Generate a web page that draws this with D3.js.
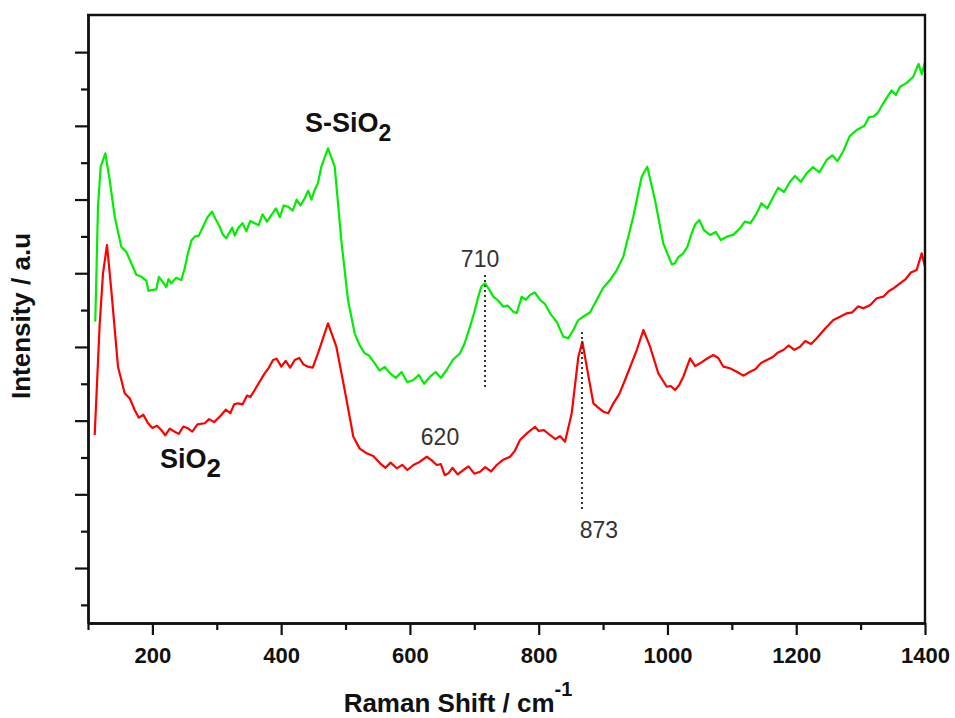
<!DOCTYPE html>
<html><head><meta charset="utf-8">
<script src="https://cdn.jsdelivr.net/npm/d3@7"></script>
<style>body{margin:0;background:#fff}svg{display:block}</style>
</head><body>
<svg id="chart" width="955" height="718"></svg>
<script>
// ---- data: [Raman shift (cm^-1), intensity (a.u.)] ----
const sSiO2 = [[111.3,434.2],[115.5,590.3],[119.7,644.6],[126.9,662.7],[133.7,626.5],[141.5,576.7],[151.7,536],[159.5,529],[167.3,513.5],[175,498],[182.8,495.3],[190.5,490],[194,476],[198.3,477.2],[206,478],[210,495],[213.9,490.8],[221.6,481],[225,492],[229.4,486.3],[237,494],[244.9,490.8],[250,506],[255.3,527.1],[260.5,544],[265.7,549.6],[272,551],[278.6,563.1],[285.6,576],[292.6,583.5],[298,574],[304.6,563.1],[309,553],[314.8,547.4],[324,562],[328,551],[333,561],[340,568],[346,557],[352,571],[358.9,567.8],[365,565],[371,580],[378,570],[384.7,579],[392,588],[398,576],[404,592],[410.7,590.3],[418,585],[424,600],[430,592],[436.6,601.7],[442,612],[447,600],[452.1,613],[457,622],[462.4,644.6],[472.8,669.5],[483.2,644.6],[493.4,545.1],[503.8,463.7],[514.2,418.5],[522,402],[529.8,391.3],[537,388],[545.3,377.8],[553,368],[561,373],[569.1,364.2],[578,358],[587,366],[596,352],[605.2,355.1],[614,362],[622,350],[631.2,359.6],[640,366],[648,358],[657.1,368.7],[667,383],[677.8,391.3],[685,405],[693.3,427.5],[700,447],[706.2,468.2],[711,482],[716.6,486.3],[723,478],[729.5,468.2],[737,463],[745,454.6],[752,456],[760.5,447.8],[766,446],[773.6,468.2],[780,464],[786.6,470.5],[794,474],[802.1,463.7],[810,458],[817.6,445.6],[828,434],[838.3,413.9],[846,412],[853.8,423],[861,436],[869.2,441],[880,447],[890,463.7],[900,480],[910.7,490.8],[921,504],[931.4,522.4],[946.9,576.7],[959.9,631],[968.6,644.6],[980.6,599.4],[993.5,540.6],[1003,520],[1007,512],[1011.6,513.5],[1017,522],[1024.6,527.1],[1031,536],[1037.6,554.2],[1043,566],[1049.4,572.2],[1057,558],[1066.1,551.9],[1075,556],[1083,545],[1092.1,549.6],[1102,552],[1112.7,561],[1120,570],[1129,568],[1138.6,581.3],[1146,595],[1155,588],[1164.4,603.9],[1172,616],[1181,610],[1190.3,624.2],[1198,632],[1207,624],[1216.2,635.6],[1226,644],[1236,637],[1247.3,653.7],[1256,660],[1264,652],[1273.1,665.9],[1283,686],[1293.9,694.4],[1306,700],[1313,712],[1319.6,712.4],[1327,718],[1335.2,730.6],[1348,748],[1355,742],[1361.1,753.1],[1371,758],[1381.8,766.7],[1390,784],[1395,770],[1400,787]];

const sio2 = [[110.4,280.5],[118.2,432.1],[123.3,499.9],[129.5,538.3],[136.2,477.2],[146.6,373.2],[157,337.1],[165,330],[172.5,314.4],[179,304],[186,308],[193.2,296.4],[200,290],[207,293],[213.8,287.3],[220,280],[227,289],[234.7,285],[241,282],[248,292],[255.3,289.6],[262,285],[270,295],[281.3,296.4],[288,302],[296,298],[307.1,307.6],[314,315],[321,310],[327,322],[333,323.5],[340,322],[347,334],[352,332],[358.9,341.5],[366,352],[374.4,364.2],[381,372],[387.4,382.3],[393,384],[400.3,373.2],[407,381],[414,372],[421.1,382.3],[428,385],[435,376],[441.7,373.2],[449,372],[457.2,391.3],[472.8,432.1],[485.7,400.3],[498.7,341.5],[512.1,278.2],[522,262],[532.9,255.6],[543,252],[553.6,242.1],[562,236],[570,243],[579.5,235.3],[588,240],[596,233],[605.3,239.8],[615,244],[626.1,251],[634,246],[641.6,239.8],[648,241],[654,226],[659.7,228.5],[666,236],[674,227],[683,233],[691,238],[700,228],[708.9,230.7],[717,237],[726,231],[734.8,239.8],[745,247],[755.5,251],[763,259],[771,273.7],[782,283],[794.3,291.7],[800,286],[808,287],[817.6,280.5],[826,275],[833,279],[840.9,271.4],[851.3,309.9],[861.6,386.7],[867.8,407.1],[874.6,373.2],[884.9,323.5],[892,318],[900.4,312.1],[908,310],[916,323.5],[925,336],[934.1,355.1],[952.3,395.8],[962.6,423],[973,400.3],[985.8,364.2],[998.9,346],[1005,347],[1011.8,341.5],[1018,348],[1024.7,359.6],[1035.1,384.6],[1043,374],[1050.6,377.8],[1061,384],[1071.3,389],[1079,385],[1086.8,373.2],[1097,371],[1107.6,366.4],[1118,361],[1128.3,366.4],[1137,370],[1145,378],[1154.2,382.3],[1163,386],[1171,392],[1180,395.8],[1188,402],[1197,396],[1205.9,400.3],[1214,408],[1223,404],[1231.9,411.7],[1245,425],[1257.7,436.5],[1268,441],[1278.5,445.6],[1287,447],[1296,455],[1304.3,452.4],[1315,457],[1325,466],[1335.2,468.2],[1344,476],[1352,480],[1361.1,486.3],[1370,492],[1378,501],[1387.1,504.4],[1394.9,527.1],[1400,508.9]];

const xMajorTicks = [200,400,600,800,1000,1200,1400];
const xMinorTicks = [100,300,500,700,900,1100,1300];
const yMajorTicks = [100,200,300,400,500,600,700,800];
const yMinorTicks = [50,150,250,350,450,550,650,750];

const peakLabels = ["710","620","873"];
const peakLabelShift = [708.9,646.7,893.6];
const peakLabelInt = [508.5,266.9,140.7];
const markerShift = [716.6,867.3];
const markerTop = [497.6,420.3];
const markerBottom = [341.5,178.7];

const seriesNames = ["S-SiO","SiO"];
const seriesNameShift = [437,211.8];
const seriesNameInt = [691.7,235.7];
const seriesColors = ["#00ee00","#ff0000"];

// ---- chart ----
const svg = d3.select("#chart");
const x = d3.scaleLinear().domain([100,1400]).range([88,925]);
const y = d3.scaleLinear().domain([25.4,850.4]).range([623,15]);
const font = "'Liberation Sans', Arial, Helvetica, sans-serif";

const line = d3.line().x(d=>x(d[0])).y(d=>y(d[1]));
[sSiO2, sio2].forEach((s,i)=>{
  svg.append("path").datum(s).attr("d",line)
    .attr("fill","none").attr("stroke",seriesColors[i])
    .attr("stroke-width",2.2).attr("stroke-linejoin","round");
});

// axes
const gx = svg.append("g").attr("transform",`translate(0,${y(25.4)})`);
gx.call(d3.axisBottom(x).tickValues(xMajorTicks).tickSize(12).tickSizeOuter(0).tickFormat(d3.format("d")));
gx.selectAll("text").attr("y",24).attr("dy","0.71em")
  .attr("font-family",font).attr("font-size",22).attr("font-weight","bold").attr("fill","#111");
const gx2 = svg.append("g").attr("transform",`translate(0,${y(25.4)})`);
gx2.call(d3.axisBottom(x).tickValues(xMinorTicks).tickSize(7).tickSizeOuter(0).tickFormat(""));

const gy = svg.append("g").attr("transform",`translate(${x(100)},0)`);
gy.call(d3.axisLeft(y).tickValues(yMajorTicks).tickSize(13).tickSizeOuter(0).tickFormat(""));
const gy2 = svg.append("g").attr("transform",`translate(${x(100)},0)`);
gy2.call(d3.axisLeft(y).tickValues(yMinorTicks).tickSize(7).tickSizeOuter(0).tickFormat(""));

svg.selectAll(".domain").attr("stroke","#111").attr("stroke-width",2.4);
svg.selectAll(".tick line").attr("stroke","#111").attr("stroke-width",2.2);

// frame top/right
svg.append("path")
  .attr("d",`M${x(100)-1},${y(850.4)}H${x(1400)}V${y(25.4)}`)
  .attr("fill","none").attr("stroke","#111").attr("stroke-width",2.4);

// axis titles
const xt = svg.append("text").attr("x",458).attr("y",712)
  .attr("text-anchor","middle").attr("font-family",font).attr("font-size",26)
  .attr("font-weight","bold").attr("fill","#111");
xt.append("tspan").text("Raman Shift / cm");
xt.append("tspan").attr("dy",-16).attr("font-size",20).text("-1");

svg.append("text").attr("transform","translate(30,316) rotate(-90)")
  .attr("text-anchor","middle").attr("font-family",font).attr("font-size",26)
  .attr("font-weight","bold").attr("fill","#111").text("Intensity / a.u");

// series labels
seriesNames.forEach((n,i)=>{
  const t = svg.append("text").attr("x",x(seriesNameShift[i])).attr("y",y(seriesNameInt[i]))
    .attr("font-family",font).attr("font-size",27).attr("font-weight","bold").attr("fill","#111");
  t.append("tspan").text(n);
  t.append("tspan").attr("dy",9).attr("font-size",i===0?23:26).text("2");
});

// peak markers
markerShift.forEach((m,i)=>{
  svg.append("line").attr("x1",x(m)).attr("x2",x(m))
    .attr("y1",y(markerTop[i])).attr("y2",y(markerBottom[i]))
    .attr("stroke","#333").attr("stroke-width",2).attr("stroke-dasharray","2,3");
});
peakLabels.forEach((p,i)=>{
  svg.append("text").attr("x",x(peakLabelShift[i])).attr("y",y(peakLabelInt[i]))
    .attr("text-anchor","middle").attr("font-family",font).attr("font-size",23)
    .attr("fill","#333").text(p);
});
</script>
</body></html>
